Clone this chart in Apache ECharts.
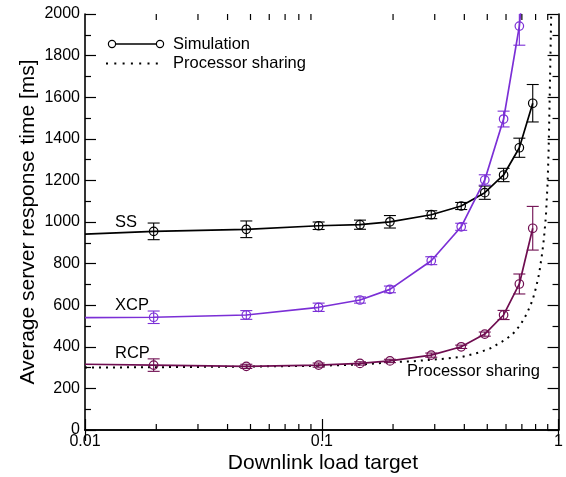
<!DOCTYPE html>
<html>
<head>
<meta charset="utf-8">
<script src="https://cdn.jsdelivr.net/npm/echarts@6/dist/echarts.min.js"></script>
<style>
html, body { margin: 0; padding: 0; background: #fff; }
#chart { width: 566px; height: 477px; }
</style>
</head>
<body>
<div id="chart"></div>
<script>
// Downlink load targets at which the simulations were run
const loads = [0.0195, 0.048, 0.097, 0.145, 0.194, 0.29, 0.388, 0.488, 0.586, 0.683, 0.778];

// Leading segment value at the left edge (load 0.01) for each protocol
const edgeLoad = 0.01;
const ssEdge = 942;
const xcpEdge = 540;
const rcpEdge = 316;

// Mean response time [ms] and confidence half-width per protocol
const ssMean  = [955, 965, 982, 987, 1001, 1035, 1077, 1141, 1226, 1357, 1571];
const ssErr   = [40, 40, 18, 22, 30, 19, 17, 32, 32, 46, 90];
const xcpMean = [542, 553, 590, 625, 676, 814, 977, 1202, 1495, 1942, 2600];
const xcpErr  = [30, 21, 20, 15, 16, 19, 17, 25, 38, 92, 150];
const rcpMean = [312, 306, 312, 320, 332, 360, 400, 461, 553, 702, 970];
const rcpErr  = [30, 10, 10, 8, 8, 10, 8, 10, 22, 48, 105];

// Processor-sharing model curve
const psLoad = [0.01, 0.02, 0.05, 0.1, 0.15, 0.205, 0.241, 0.284, 0.333, 0.392, 0.46, 0.516, 0.577, 0.636, 0.69, 0.736, 0.777, 0.805, 0.829, 0.853, 0.867, 0.884, 0.899, 0.908, 0.917, 0.931, 0.94];
const psTime = [300, 302, 305, 309, 316, 327, 330, 337, 343, 352, 372, 393, 425, 457, 505, 561, 625, 689, 755, 851, 918, 1025, 1188, 1346, 1587, 2000, 2300];

// Axis tick labels and minor log ticks
const xTickLabels = ['0.01', '0.1', '1'];
const xMinorTicks = [0.02, 0.03, 0.04, 0.05, 0.06, 0.07, 0.08, 0.09, 0.2, 0.3, 0.4, 0.5, 0.6, 0.7, 0.8, 0.9];
const yMin = 0, yMax = 2000, yStep = 200;

const FONT = 'Liberation Sans, Arial, Helvetica, sans-serif';
const COLORS = { SS: '#000000', XCP: '#7b2fd6', RCP: '#6f0d50' };

function zip(xs, ys) { return xs.map((x, i) => [x, ys[i]]); }

function simLine(name, edge, mean, color) {
  const data = [{ value: [edgeLoad, edge], symbol: 'none' }].concat(zip(loads, mean));
  return {
    name: name, type: 'line', data: data,
    symbol: 'circle', symbolSize: 8.5,
    itemStyle: { color: 'rgba(0,0,0,0)', borderColor: color, borderWidth: 1.2 },
    lineStyle: { color: color, width: 1.7 },
    z: 3, clip: true
  };
}

function errBars(name, mean, err, color) {
  return {
    name: name + ' err', type: 'custom', clip: true, z: 4,
    data: loads.map((x, i) => [x, mean[i], err[i]]),
    encode: { x: 0, y: 1 },
    renderItem: function (params, api) {
      const x = api.value(0), y = api.value(1), e = api.value(2);
      const hi = api.coord([x, y + e]);
      const lo = api.coord([x, y - e]);
      const hw = 6;
      const st = { stroke: color, lineWidth: 1.1, fill: null };
      return {
        type: 'group',
        children: [
          { type: 'line', shape: { x1: hi[0], y1: hi[1], x2: lo[0], y2: lo[1] }, style: st },
          { type: 'line', shape: { x1: hi[0] - hw, y1: hi[1], x2: hi[0] + hw, y2: hi[1] }, style: st },
          { type: 'line', shape: { x1: lo[0] - hw, y1: lo[1], x2: lo[0] + hw, y2: lo[1] }, style: st }
        ]
      };
    }
  };
}

const minorTickSeries = {
  type: 'custom', clip: false, z: 5, silent: true,
  data: xMinorTicks.map(v => [v, yMin]),
  encode: { x: 0, y: 1 },
  renderItem: function (params, api) {
    const v = api.value(0);
    const b = api.coord([v, yMin]);
    const t = api.coord([v, yMax]);
    const st = { stroke: '#000', lineWidth: 1.2 };
    return {
      type: 'group',
      children: [
        { type: 'line', shape: { x1: b[0], y1: b[1], x2: b[0], y2: b[1] - 6 }, style: st },
        { type: 'line', shape: { x1: t[0], y1: t[1], x2: t[0], y2: t[1] + 6 }, style: st }
      ]
    };
  }
};

const axisLine = { show: true, lineStyle: { color: '#000', width: 1.6 } };
const majorTick = { show: true, inside: true, length: 11, lineStyle: { color: '#000', width: 1.2 } };
const minorTick = { show: true, splitNumber: 2, length: 6, lineStyle: { color: '#000', width: 1.2 } };

const chart = echarts.init(document.getElementById('chart'), null, { renderer: 'canvas' });

chart.setOption({
  animation: false,
  backgroundColor: '#fff',
  grid: { left: 85, right: 6, top: 14, bottom: 47 },
  xAxis: [
    {
      type: 'log', logBase: 10, min: 0.01, max: 1, position: 'bottom',
      axisLine: axisLine, axisTick: majorTick, splitLine: { show: false },
      axisLabel: {
        color: '#000', fontFamily: FONT, fontSize: 16, margin: 4,
        formatter: v => xTickLabels[Math.round(Math.log10(v)) + 2]
      }
    },
    {
      type: 'log', logBase: 10, min: 0.01, max: 1, position: 'top',
      axisLine: axisLine, axisTick: majorTick, splitLine: { show: false },
      axisLabel: { show: false }
    }
  ],
  yAxis: [
    {
      type: 'value', min: yMin, max: yMax, interval: yStep, position: 'left',
      axisLine: axisLine, axisTick: majorTick, minorTick: minorTick,
      splitLine: { show: false }, minorSplitLine: { show: false },
      axisLabel: { color: '#000', fontFamily: FONT, fontSize: 16, margin: 5, formatter: v => String(v) }
    },
    {
      type: 'value', min: yMin, max: yMax, interval: yStep, position: 'right',
      axisLine: axisLine, axisTick: majorTick, minorTick: minorTick,
      splitLine: { show: false }, minorSplitLine: { show: false },
      axisLabel: { show: false }
    }
  ],
  series: [
    {
      name: 'Processor sharing', type: 'line', data: zip(psLoad, psTime),
      showSymbol: false, symbol: 'none', clip: true, z: 2,
      lineStyle: { color: '#000', width: 2, type: [2, 5], cap: 'butt' }
    },
    simLine('SS', ssEdge, ssMean, COLORS.SS),
    simLine('XCP', xcpEdge, xcpMean, COLORS.XCP),
    simLine('RCP', rcpEdge, rcpMean, COLORS.RCP),
    errBars('SS', ssMean, ssErr, COLORS.SS),
    errBars('XCP', xcpMean, xcpErr, COLORS.XCP),
    errBars('RCP', rcpMean, rcpErr, COLORS.RCP),
    minorTickSeries
  ],
  graphic: [
    // axis titles
    {
      type: 'text', x: 323, y: 463,
      style: { text: 'Downlink load target', fill: '#000', font: '21px ' + FONT, align: 'center', verticalAlign: 'middle' }
    },
    {
      type: 'text', x: 28.5, y: 222, rotation: Math.PI / 2,
      style: { text: 'Average server response time [ms]', fill: '#000', font: '21px ' + FONT, align: 'center', verticalAlign: 'middle' }
    },
    // curve labels
    { type: 'text', x: 115, y: 222, style: { text: 'SS', fill: '#000', font: '16.5px ' + FONT, align: 'left', verticalAlign: 'middle' } },
    { type: 'text', x: 115, y: 305, style: { text: 'XCP', fill: '#000', font: '16.5px ' + FONT, align: 'left', verticalAlign: 'middle' } },
    { type: 'text', x: 115, y: 353, style: { text: 'RCP', fill: '#000', font: '16.5px ' + FONT, align: 'left', verticalAlign: 'middle' } },
    { type: 'text', x: 407, y: 371, style: { text: 'Processor sharing', fill: '#000', font: '16.5px ' + FONT, align: 'left', verticalAlign: 'middle' } },
    // key
    { type: 'line', shape: { x1: 112, y1: 44, x2: 160, y2: 44 }, style: { stroke: '#000', lineWidth: 1.7 } },
    { type: 'circle', shape: { cx: 112, cy: 44, r: 3.6 }, style: { stroke: '#000', lineWidth: 1.2, fill: '#fff' } },
    { type: 'circle', shape: { cx: 160, cy: 44, r: 3.6 }, style: { stroke: '#000', lineWidth: 1.2, fill: '#fff' } },
    { type: 'text', x: 173, y: 44, style: { text: 'Simulation', fill: '#000', font: '16.5px ' + FONT, align: 'left', verticalAlign: 'middle' } },
    { type: 'line', shape: { x1: 106, y1: 63.5, x2: 160, y2: 63.5 }, style: { stroke: '#000', lineWidth: 2, lineDash: [2, 6.3] } },
    { type: 'text', x: 173, y: 63.5, style: { text: 'Processor sharing', fill: '#000', font: '16.5px ' + FONT, align: 'left', verticalAlign: 'middle' } }
  ]
});
</script>
</body>
</html>
